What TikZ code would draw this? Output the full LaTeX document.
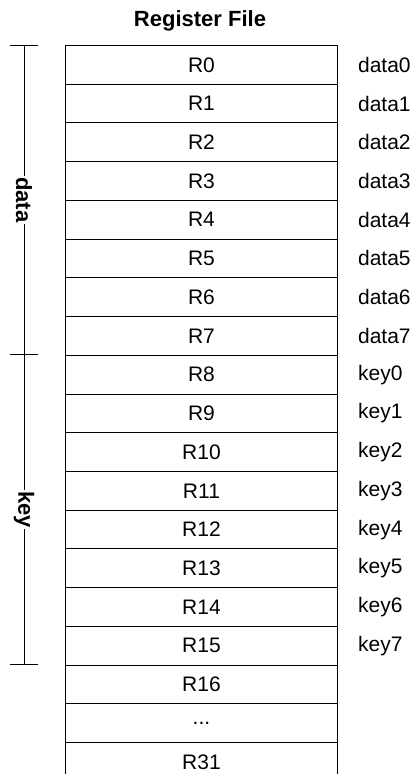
\documentclass[tikz,border=0pt]{standalone}
\usepackage{fontspec}
\setmainfont{Liberation Sans}
\begin{document}
\begin{tikzpicture}[x=1pt,y=-1pt,
  reg/.style={draw=black, line width=0.9pt, minimum width=272pt, minimum height=38.73pt, inner sep=0pt, anchor=north west, font=\fontsize{21}{24}\selectfont},
  lab/.style={anchor=west, inner sep=0pt, font=\fontsize{21}{24}\selectfont},
  grp/.style={fill=white, inner sep=1pt, rotate=-90, font=\fontsize{22}{24}\selectfont\bfseries},
  brk/.style={line width=0.9pt}]
\useasboundingbox (0,0) rectangle (417,774);
\clip (0,0) rectangle (417,774);
\node[font=\fontsize{22}{24}\selectfont\bfseries] (title) at (200,21) {Register File};
\foreach \i in {0,...,15} {
  \node[reg] (r\i) at (65,{45+\i*38.73}) {R\i};
}
\foreach \i in {0,...,7} {
  \node[lab] (d\i) at ([xshift=20pt]r\i.east) {data\i};
}
\foreach \i [evaluate=\i as \j using int(\i+8)] in {0,...,7} {
  \node[lab] (k\i) at ([xshift=20pt]r\j.east) {key\i};
}
\node[reg] (r16) at (65,{45+16*38.73}) {R16};
\node[reg] (rdots) at (65,{45+17*38.73}) {...};
\node[reg] (r31) at (65,{45+18*38.73}) {R31};
% bracket
\coordinate (b0) at (24,45);
\coordinate (b1) at (24,354.8);
\coordinate (b2) at (24,664.7);
\draw[brk] (b0) -- (b2);
\draw[brk] ([xshift=-14pt]b0) -- ([xshift=14pt]b0);
\draw[brk] ([xshift=-14pt]b1) -- ([xshift=14pt]b1);
\draw[brk] ([xshift=-14pt]b2) -- ([xshift=14pt]b2);
\node[grp] (gdata) at (24,199.9) {data};
\node[grp] (gkey) at (24,509.7) {key};
\end{tikzpicture}
\end{document}
